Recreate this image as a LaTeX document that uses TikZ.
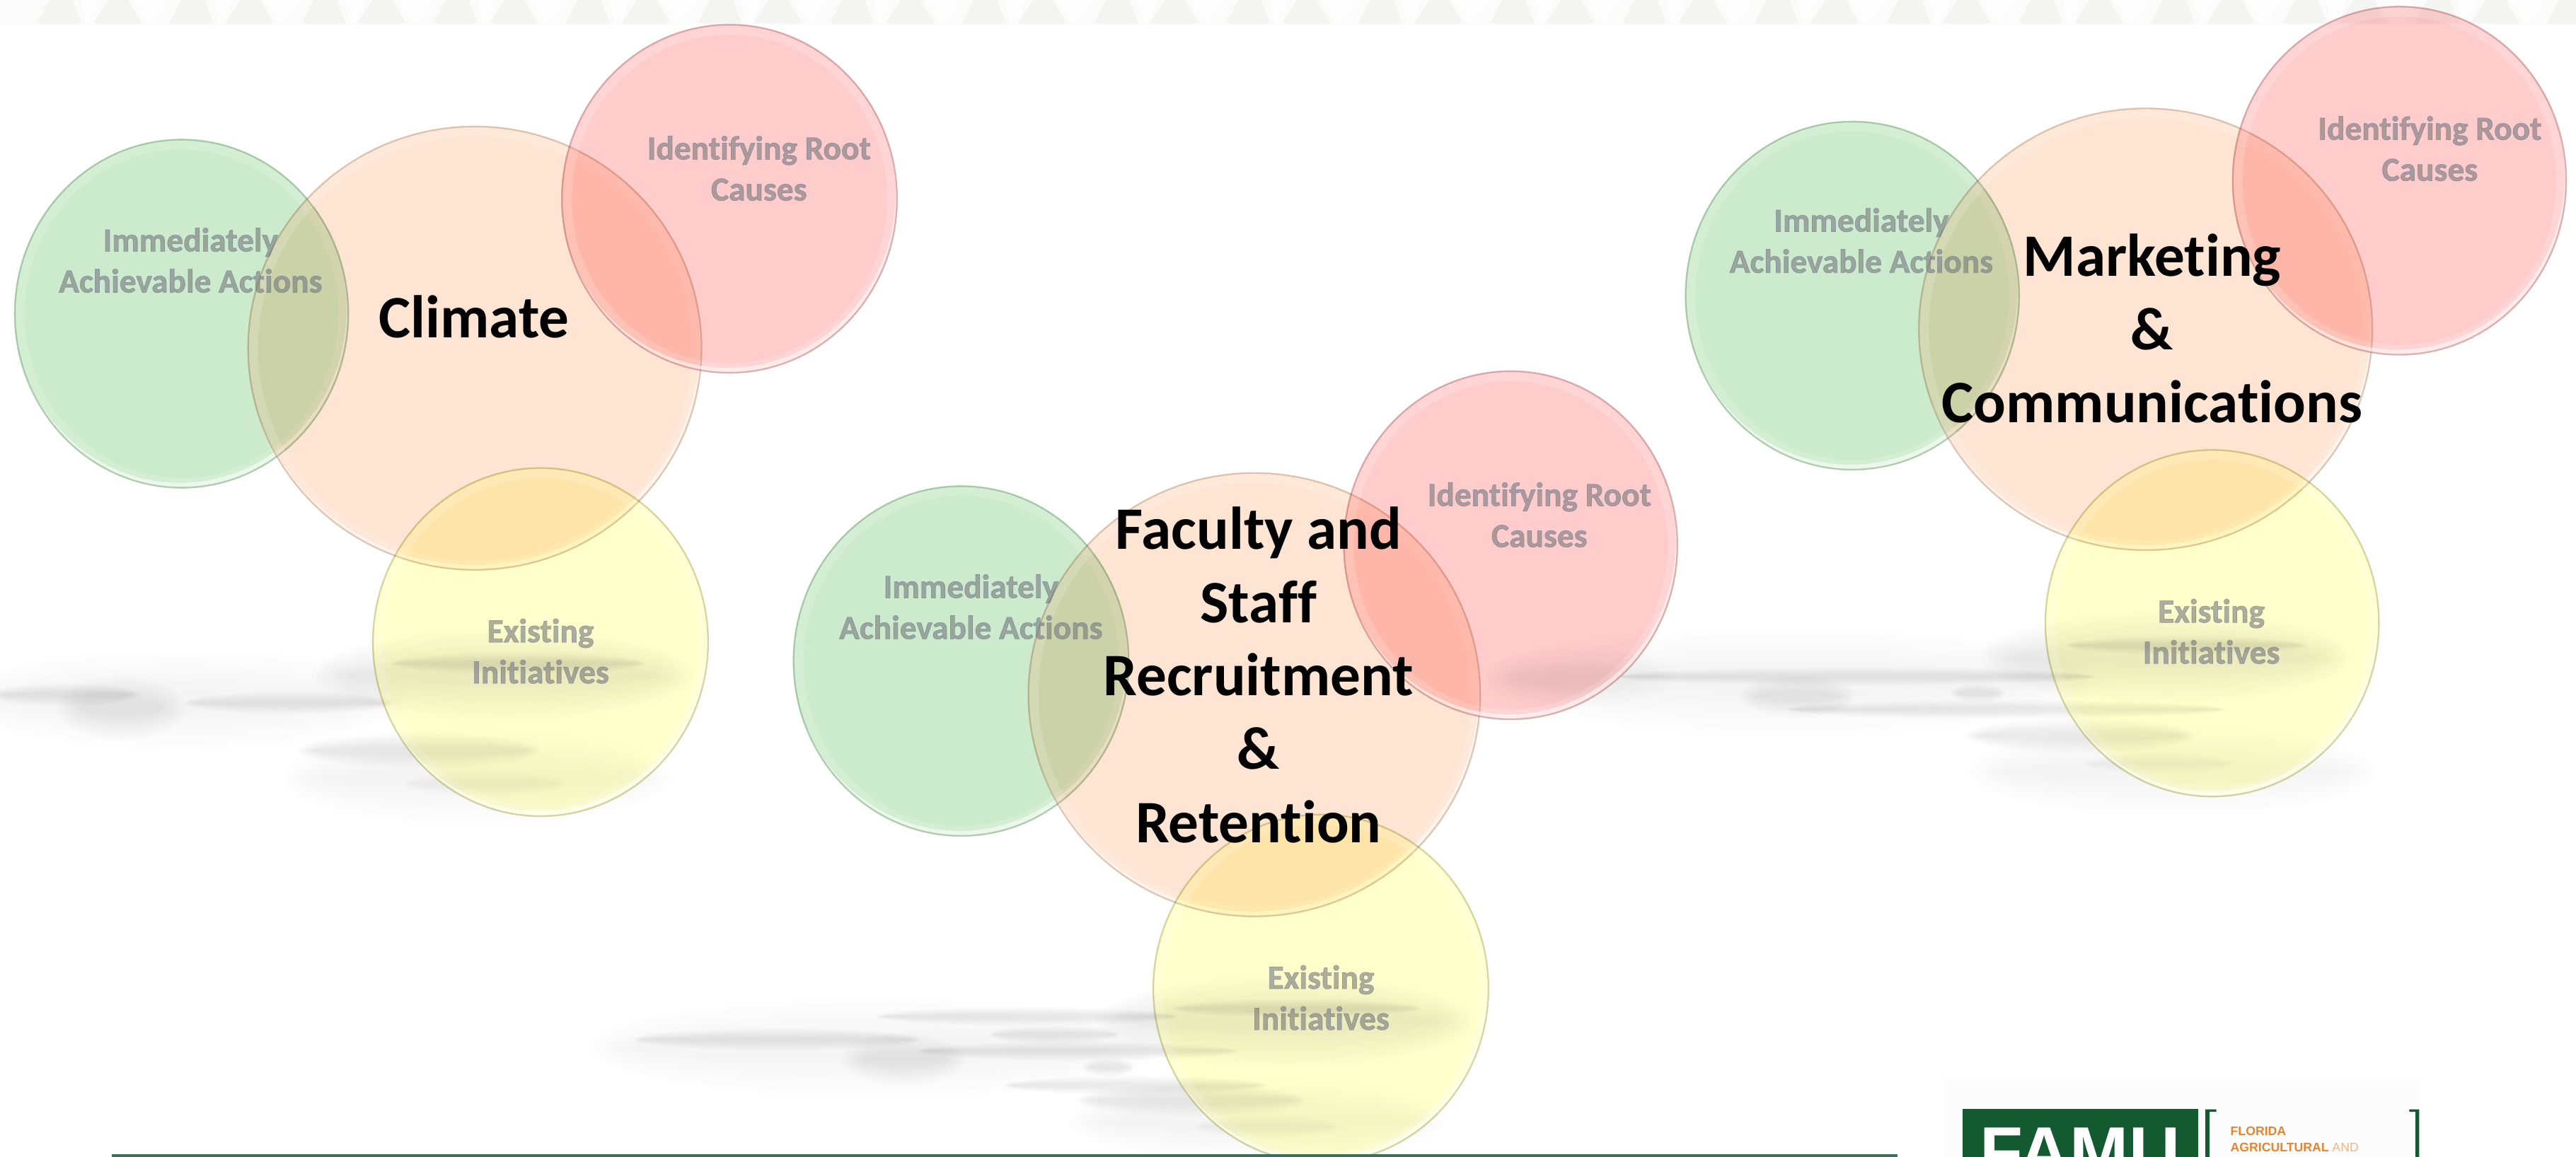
\documentclass[tikz,border=0pt]{standalone}
\usepackage{fontspec}
\setmainfont[Ligatures=NoCommon]{Carlito}
\newfontfamily\logofont{Liberation Sans}
\font\olfontbase="Carlito/B:embolden=1.6;-liga" at 20.4pt
\newcommand{\olsel}{\olfontbase\baselineskip 25pt\relax}
\definecolor{gfill}{HTML}{CCEBCC}\definecolor{gline}{HTML}{BAD2BA}
\definecolor{ofill}{HTML}{FEE4D2}\definecolor{oline}{HTML}{E0CDBE}
\definecolor{rfill}{HTML}{FFCCCC}\definecolor{rline}{HTML}{DCBABA}
\definecolor{yfill}{HTML}{FFFFCC}\definecolor{yline}{HTML}{D6D6AC}
\definecolor{famugreen}{HTML}{145A30}\definecolor{famuorange}{HTML}{E8842E}
\definecolor{rulegreen}{HTML}{3F6F5A}\definecolor{bandgray}{HTML}{F4F4F2}
\newcommand{\olt}[1]{\special{pdf:bcolor [0.46 0.46 0.46] [0.42 0.48 0.62]}#1\special{pdf:ecolor}}
% \blob{cx}{cy}{rx}{ry}{total opacity}: soft edge built from stacked ellipses
\newcommand{\blob}[5]{%
  \foreach \k in {0,...,9}{%
    \fill[black,fill opacity=#5/7] (#1,#2) ellipse ({#3-\k*.085*#4} and {#4*(1-\k*.085)});
  }}
% \bub{cx}{cy}{rx}{ry}{fill}{line}
\newcommand{\bub}[6]{%
  \fill[#5,blend mode=multiply] (#1,#2) ellipse ({#3} and {#4});
  \begin{scope}
    \clip (#1,#2) ellipse ({#3} and {#4});
    \fill[white,fill opacity=.16,even odd rule] (#1,#2) ellipse ({#3+2} and {#4+2}) (#1,#2) ellipse ({#3-6} and {#4-6});
    \fill[white,fill opacity=.55,even odd rule] (#1,#2) ellipse ({#3+6} and {#4+6}) ({#1-1},{#2-3}) ellipse ({#3} and {#4});
  \end{scope}
  \draw[#6,line width=1pt,blend mode=multiply] (#1,#2) ellipse ({#3} and {#4});
}
\tikzset{
  small/.style={align=center,inner sep=0pt,text opacity=.58,font=\olsel},
  big/.style={align=center,inner sep=0pt,text=black,font=\fontsize{36.7}{44.6}\selectfont\bfseries},
}
\begin{document}
\begin{tikzpicture}[x=1pt,y=-1pt]
\useasboundingbox (0,0) rectangle (1568,704.54);
\fill[white] (0,0) rectangle (1568,704.54);
% top band
\fill[black!1.5] (0,0) rectangle (1568,15);
\foreach \i in {0,...,19}{
  \pgfmathsetmacro{\o}{\i*80.4}
  \fill[bandgray] (\o+23,14) -- (\o+30,0) -- (\o+44,0) -- (\o+49.5,14) -- cycle;
  \fill[bandgray] (\o+57,14) -- (\o+66,0) -- (\o+78,0) -- (\o+86,14) -- cycle;
  \fill[white,fill opacity=.7] (\o+49,0) -- (\o+62,0) -- (\o+56,14) -- (\o+52,14) -- cycle;
  \fill[white,fill opacity=.7] (\o+80,0) -- (\o+104,0) -- (\o+93,14) -- (\o+89,14) -- cycle;
}
% shadows: Climate
\blob{110}{426}{138}{32}{.04}
\blob{74}{431}{40}{20}{.05}
\blob{39}{423}{46}{7}{.05}
\blob{176}{428}{64}{7}{.05}
\blob{306}{411}{116}{28}{.05}
\blob{315}{404}{78}{7}{.045}
\blob{255}{457}{74}{11}{.05}
\blob{290}{474}{120}{30}{.035}
\blob{295}{477}{50}{8}{.04}
% shadows: Faculty
\blob{532}{638}{175}{32}{.04}
\blob{550}{645}{38}{16}{.05}
\blob{473}{633}{88}{7}{.05}
\blob{625}{619}{92}{6}{.055}
\blob{642}{630}{40}{6}{.055}
\blob{656}{640}{98}{6}{.055}
\blob{675}{650}{16}{6}{.055}
\blob{691}{661}{80}{6}{.055}
\blob{782}{622}{115}{28}{.05}
\blob{789}{614}{76}{6}{.045}
\blob{725}{670}{70}{10}{.05}
\blob{765}{683}{116}{26}{.035}
\blob{771}{686}{45}{7}{.04}
% shadows: Marketing
\blob{1090}{415}{190}{34}{.04}
\blob{1094}{424}{36}{13}{.05}
\blob{962}{412}{58}{19}{.04}
\blob{1130}{412}{146}{6}{.05}
\blob{1204}{422}{17}{6}{.05}
\blob{1221}{432}{134}{6}{.05}
\blob{1318}{400}{113}{28}{.05}
\blob{1331}{393}{74}{6}{.045}
\blob{1266}{448}{70}{11}{.05}
\blob{1322}{470}{126}{28}{.035}
\blob{1314}{465}{46}{7}{.04}
% clusters
\bub{110.5}{191}{101.5}{106}{gfill}{gline}
\bub{289}{212}{138}{135}{ofill}{oline}
\bub{444}{121}{102}{106}{rfill}{rline}
\bub{329}{391}{102}{106}{yfill}{yline}
\bub{585}{402.5}{102}{106.5}{gfill}{gline}
\bub{763.5}{423}{137.5}{135}{ofill}{oline}
\bub{919.5}{332}{101.5}{106}{rfill}{rline}
\bub{804}{602}{102}{106}{yfill}{yline}
\bub{1127.5}{180}{101.5}{106}{gfill}{gline}
\bub{1306}{200.5}{138}{134.5}{ofill}{oline}
\bub{1460.5}{110}{101.5}{106}{rfill}{rline}
\bub{1346.5}{379.5}{101.5}{105.5}{yfill}{yline}
% labels
\node[big] (climate) at (288.5,193) {Climate};
\node[small] (c1) at (116,158.5) {\olt{Immediately}\\\olt{Achievable Actions}};
\node[small] (c2) at (462,102.5) {\olt{Identifying Root}\\\olt{Causes}};
\node[small] (c3) at (329,396.5) {\olt{Existing}\\\olt{Initiatives}};
\node[big] (faculty) at (766,411) {Faculty and\\Staff\\Recruitment\\\&\\Retention};
\node[small] (f1) at (591,369.5) {\olt{Immediately}\\\olt{Achievable Actions}};
\node[small] (f2) at (937,313.5) {\olt{Identifying Root}\\\olt{Causes}};
\node[small] (f3) at (804,607.5) {\olt{Existing}\\\olt{Initiatives}};
\node[big] (marketing) at (1310,200) {Marketing\\\&\\Communications};
\node[small] (m1) at (1133,146.5) {\olt{Immediately}\\\olt{Achievable Actions}};
\node[small] (m2) at (1479,90.5) {\olt{Identifying Root}\\\olt{Causes}};
\node[small] (m3) at (1346,384.5) {\olt{Existing}\\\olt{Initiatives}};
% footer
\fill[rulegreen] (68,702.8) rectangle (1155,704.54);
\fill[black!1] (1183,657) rectangle (1473,704.54);
\fill[famugreen] (1194.6,675.3) rectangle (1338,704.54);
\node[anchor=base,inner sep=0pt,text=white,font=\logofont\fontsize{43}{43}\selectfont\bfseries] (famu) at (1266,716.5) {FAMU};
\fill[famugreen] (1342.4,675.5) rectangle (1345,704.54) (1342.4,675.5) rectangle (1349,677);
\fill[famugreen] (1470.3,675.5) rectangle (1472.5,704.54) (1466.5,675.5) rectangle (1472.5,677);
\node[anchor=base west,inner sep=0pt,text=famuorange,font=\logofont\fontsize{7.6}{10}\selectfont\bfseries] (fl) at (1357.5,691.2) {FLORIDA};
\node[anchor=base west,inner sep=0pt,text=famuorange,font=\logofont\fontsize{7.6}{10}\selectfont] (ag) at (1357.5,701.3) {\textbf{AGRICULTURAL} \textcolor{famuorange!60}{AND}};
\end{tikzpicture}
\end{document}
